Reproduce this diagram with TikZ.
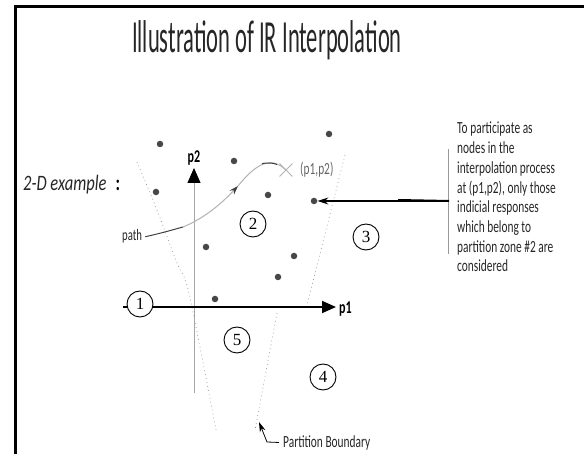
\documentclass[tikz,border=0pt]{standalone}
\usepackage{fontspec}
\setmainfont{Carlito}
\newfontfamily\titlef[FakeStretch=0.49]{Carlito}
\newfontfamily\midf[FakeStretch=0.75]{Carlito}
\newfontfamily\smallf[FakeStretch=0.67]{Carlito}
\newfontfamily\numf{Liberation Serif}
\usetikzlibrary{arrows.meta,shapes.misc}
\begin{document}
\begin{tikzpicture}[x=1pt,y=-1pt,
  framestyle/.style={line width=3pt,line join=miter},
  zone/.style={circle,draw=black,fill=white,line width=0.9pt,minimum size=26pt,inner sep=0pt,font=\numf\fontsize{17}{17}\selectfont},
  sample/.style={circle,fill=black!72,minimum size=6.5pt,inner sep=0pt},
  boundary/.style={black!40,line width=0.7pt,dash pattern=on 0.8pt off 3.2pt},
  lbl/.style={inner sep=0pt,text=black!85,font=\smallf\fontsize{17}{17}\selectfont},
  axislbl/.style={inner sep=0pt,font=\smallf\bfseries\fontsize{18}{18}\selectfont},
  pathline/.style={black!30,line width=1pt},
]
\useasboundingbox (0,0) rectangle (584,454);
% frame
\draw[framestyle] (15.5,454) -- (15.5,6.5) -- (584,6.5);
% title
\node[inner sep=0pt,anchor=base,text=black!85,font=\titlef\fontsize{46}{46}\selectfont] (title) at (267,53) {Illustration of IR Interpolation};
% example label
\node[inner sep=0pt,anchor=base west,text=black!85,font=\midf\itshape\fontsize{22}{22}\selectfont] (ex) at (23,191) {2-D example};
\node[inner sep=0pt,anchor=base,font=\midf\bfseries\fontsize{22}{22}\selectfont] (colon) at (118,191) {:};
% partition boundaries
\draw[boundary] plot[smooth] coordinates {(137,162) (157,210) (177,263) (187,285) (200,347) (216,430)};
\draw[boundary] (345,155) -- (307,305);
\draw[boundary] (277,313) -- (255,430);
% axes
\coordinate (p2o) at (194,393);
\coordinate (p2t) at (194,168);
\draw[black!35,line width=0.9pt,-{Triangle[length=15pt,width=13pt,color=black]}] (p2o) -- (p2t);
\node[axislbl,anchor=base] (p2lbl) at (194,163) {p2};
\coordinate (p1o) at (123,307);
\coordinate (p1t) at (336,307);
\draw[black,line width=1.8pt,-{Triangle[length=14pt,width=12pt]}] (p1o) -- (p1t);
\node[axislbl,anchor=base west] (p1lbl) at (339,314) {p1};
% samples
\node[sample] (d1) at (160,144) {};
\node[sample] (d2) at (329,134) {};
\node[sample] (d3) at (234,161) {};
\node[sample] (d4) at (156,192) {};
\node[sample] (d5) at (268,195) {};
\node[sample] (d6) at (314,201) {};
\node[sample] (d7) at (206,247) {};
\node[sample] (d8) at (294,256) {};
\node[sample] (d9) at (278,277) {};
\node[sample] (d10) at (215,299) {};
% zones
\node[zone] (z1) at (140,304) {1};
\node[zone] (z2) at (253,224) {2};
\node[zone] (z3) at (366,237) {3};
\node[zone] (z4) at (323,377) {4};
\node[zone] (z5) at (237,340) {5};
% path
\node[lbl,anchor=base west,font=\smallf\fontsize{16}{16}\selectfont] (pathlbl) at (122,241) {path};
\node[cross out,draw=black!30,line width=0.9pt,minimum size=12pt,inner sep=0pt] (pt) at (286,170) {};
\node[lbl,anchor=base west,text=black!60] (ptlbl) at (300,175) {(p1,p2)};
\coordinate (pa) at (183,227);
\coordinate (pb) at (238,186);
\draw[black!75,line width=1pt] ([xshift=3pt]pathlbl.east) .. controls (162,233) and (172,230) .. (pa);
\draw[pathline,-{Stealth[length=9pt,width=6pt,color=black!75]}] (pa) .. controls (205,218) and (222,203) .. (pb);
\draw[pathline] (pb) .. controls (255,165) and (270,155) .. (pt.center);
\draw[black!75,line width=1pt] (262,163.6) .. controls (268,162.5) and (273,162.8) .. (277,164.5);
% callout
\coordinate (vtop) at (448,149);
\coordinate (vbot) at (448,254);
\draw[black!40,line width=0.6pt] (vtop) -- (vbot);
\coordinate (cstart) at (449,201);
\coordinate (cmid) at (398,200);
\draw[black,line width=1.2pt,-{Stealth[length=11pt,width=7pt]}] (cstart) -- (d6);
\draw[black,line width=2pt] (cstart) -- (cmid);
\foreach \t [count=\i] in {To participate as,nodes in the,interpolation process,{at (p1,p2), only those},indicial responses,which belong to,{partition zone \#2 are},considered}
  \node[lbl,anchor=base west] (c\i) at (457,{134+19.7*(\i-1)}) {\t};
% partition boundary label
\node[lbl,anchor=base west] (pbl) at (283,447) {Partition Boundary};
\coordinate (pbk) at (267,442);
\coordinate (pbt) at (259,422);
\draw[black,line width=0.8pt,-{Stealth[length=10pt,width=6pt]}] ([xshift=-4pt]pbl.west) -- (pbk) -- (pbt);
\end{tikzpicture}
\end{document}
